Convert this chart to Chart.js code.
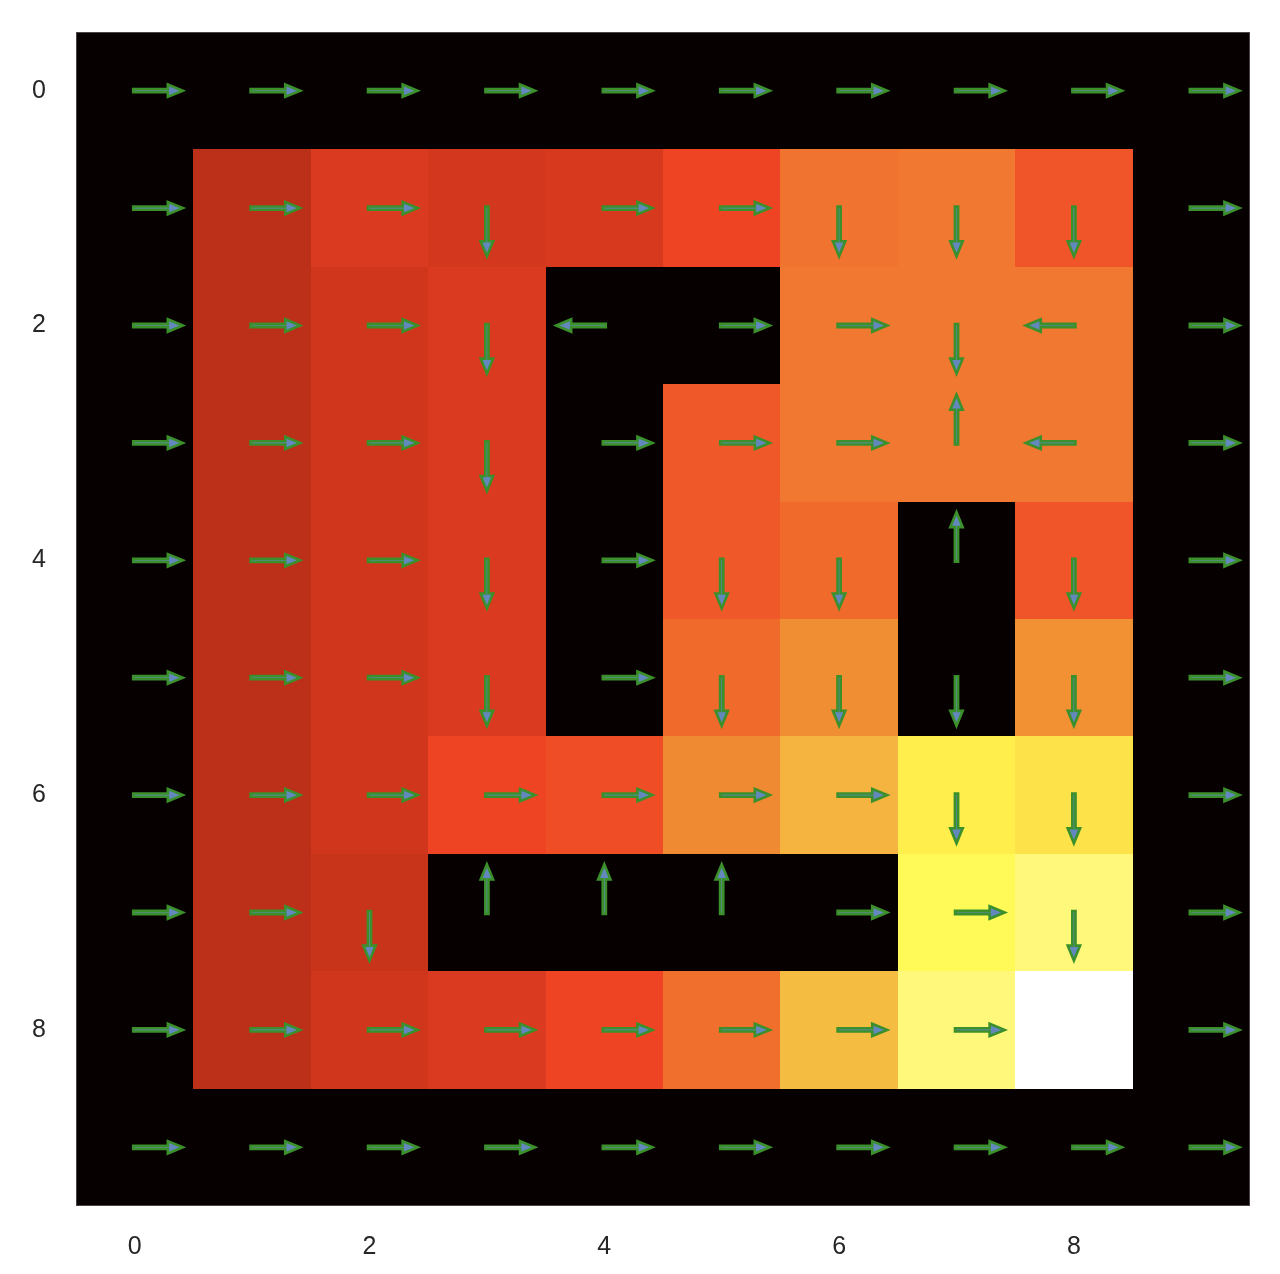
<!DOCTYPE html>
<html>
<head>
<meta charset="utf-8">
<style>
html,body{margin:0;padding:0;background:#ffffff;}
#wrap{width:1280px;height:1274px;position:relative;}
</style>
<script src="https://cdn.jsdelivr.net/npm/chart.js@4.4.1/dist/chart.umd.min.js"></script>
</head>
<body>
<div id="wrap"><canvas id="c" width="1280" height="1274"></canvas></div>
<script>
// ---- data ----
const colIndex = [0, 1, 2, 3, 4, 5, 6, 7, 8, 9];
const rowIndex = [0, 1, 2, 3, 4, 5, 6, 7, 8, 9];
const tickValues = [0, 2, 4, 6, 8];

// estimated state values (0 = wall / border, 1 = goal)
const cellValues = [
  [0, 0,    0,    0,    0,    0,    0,    0,    0,    0],
  [0, 0.30, 0.39, 0.37, 0.38, 0.42, 0.50, 0.51, 0.45, 0],
  [0, 0.30, 0.36, 0.39, 0,    0,    0.51, 0.51, 0.51, 0],
  [0, 0.30, 0.36, 0.39, 0,    0.455,0.51, 0.51, 0.51, 0],
  [0, 0.30, 0.36, 0.39, 0,    0.455,0.48, 0,    0.45, 0],
  [0, 0.30, 0.36, 0.39, 0,    0.48, 0.545,0,    0.55, 0],
  [0, 0.30, 0.36, 0.42, 0.435,0.54, 0.60, 0.76, 0.72, 0],
  [0, 0.30, 0.33, 0,    0,    0,    0,    0.80, 0.88, 0],
  [0, 0.30, 0.36, 0.39, 0.42, 0.49, 0.63, 0.88, 1.00, 0],
  [0, 0,    0,    0,    0,    0,    0,    0,    0,    0]
];

// greedy policy: R right, L left, U up, D down, . none
const policy = [
  "RRRRRRRRRR",
  "RRRDRRDDDR",
  "RRRDLRRDLR",
  "RRRDRRRULR",
  "RRRDRDDUDR",
  "RRRDRDDDDR",
  "RRRRRRRDDR",
  "RRDUUURRDR",
  "RRRRRRRR.R",
  "RRRRRRRRRR"
];

// ---- colour map (value -> colour) ----
const cmapStops = [
  [0.00, '#070000'], [0.30, '#BC2F18'], [0.33, '#C8341A'], [0.36, '#D0361C'],
  [0.39, '#DA3A1F'], [0.42, '#EE4423'], [0.45, '#EF5528'], [0.48, '#F06A2C'],
  [0.51, '#F07830'], [0.54, '#F08A32'], [0.60, '#F5B440'], [0.63, '#F5BC42'],
  [0.72, '#FDE24A'], [0.76, '#FFEE4C'], [0.80, '#FFFA58'], [0.88, '#FFF87A'],
  [1.00, '#FFFFFF']
];
function hexToRgb(h){return [parseInt(h.substr(1,2),16),parseInt(h.substr(3,2),16),parseInt(h.substr(5,2),16)];}
function cmap(v){
  if (v <= 0) return cmapStops[0][1];
  for (let i = 1; i < cmapStops.length; i++) {
    const [v1, c1] = cmapStops[i];
    const [v0, c0] = cmapStops[i-1];
    if (v <= v1) {
      if (v0 === 0 && v < v1) { return c1; }
      const t = (v - v0) / (v1 - v0);
      const a = hexToRgb(c0), b = hexToRgb(c1);
      const r = a.map((x, k) => Math.round(x + (b[k] - x) * t));
      return 'rgb(' + r.join(',') + ')';
    }
  }
  return cmapStops[cmapStops.length-1][1];
}

// points (cell centres) built from the arrays
const cellPoints = [];
rowIndex.forEach(r => colIndex.forEach(c => {
  cellPoints.push({x: c, y: r, v: cellValues[r][c], d: policy[r][c]});
}));

const heatPlugin = {
  id: 'heat',
  beforeDatasetsDraw(chart) {
    const {ctx, scales: {x, y}, chartArea} = chart;
    ctx.save();
    ctx.fillStyle = '#070000';
    ctx.fillRect(chartArea.left, chartArea.top, chartArea.right - chartArea.left, chartArea.bottom - chartArea.top);
    cellPoints.forEach(p => {
      const x0 = x.getPixelForValue(p.x - 0.5), x1 = x.getPixelForValue(p.x + 0.5);
      const y0 = y.getPixelForValue(p.y - 0.5), y1 = y.getPixelForValue(p.y + 0.5);
      ctx.fillStyle = cmap(p.v);
      ctx.fillRect(Math.round(x0), Math.round(y0), Math.round(x1) - Math.round(x0), Math.round(y1) - Math.round(y0));
    });
    ctx.strokeStyle = '#4a4446';
    ctx.lineWidth = 1;
    ctx.strokeRect(chartArea.left + 0.5, chartArea.top + 0.5, chartArea.right - chartArea.left - 1, chartArea.bottom - chartArea.top - 1);
    ctx.restore();
  },
  afterDatasetsDraw(chart) {
    const {ctx, scales: {x, y}} = chart;
    const dirs = {R: [1, 0], L: [-1, 0], U: [0, -1], D: [0, 1]};
    ctx.save();
    cellPoints.forEach(p => {
      const dv = dirs[p.d];
      if (!dv) return;
      const cx = x.getPixelForValue(p.x), cy = y.getPixelForValue(p.y);
      const tx = x.getPixelForValue(p.x + dv[0] * 0.41);
      const ty = y.getPixelForValue(p.y + dv[1] * 0.41);
      const len = Math.hypot(tx - cx, ty - cy);
      const ux = (tx - cx) / len, uy = (ty - cy) / len;
      const nx = -uy, ny = ux;
      const sw = 1.6, hw = 6.2, hl = 15;
      const tail = -1.5;
      const bx = cx + ux * tail, by = cy + uy * tail;
      const hx = tx - ux * hl, hy = ty - uy * hl;
      ctx.beginPath();
      ctx.moveTo(bx + nx * sw, by + ny * sw);
      ctx.lineTo(hx + nx * sw, hy + ny * sw);
      ctx.lineTo(hx + nx * hw, hy + ny * hw);
      ctx.lineTo(tx, ty);
      ctx.lineTo(hx - nx * hw, hy - ny * hw);
      ctx.lineTo(hx - nx * sw, hy - ny * sw);
      ctx.lineTo(bx - nx * sw, by - ny * sw);
      ctx.closePath();
      ctx.fillStyle = '#6388be';
      ctx.fill();
      ctx.lineJoin = 'miter';
      ctx.lineWidth = 2.6;
      ctx.strokeStyle = '#3b902b';
      ctx.stroke();
    });
    ctx.restore();
  }
};

new Chart(document.getElementById('c'), {
  type: 'scatter',
  data: {
    datasets: [{
      label: 'policy',
      data: cellPoints.map(p => ({x: p.x, y: p.y})),
      pointRadius: 0,
      pointHoverRadius: 0
    }]
  },
  options: {
    responsive: false,
    animation: false,
    devicePixelRatio: 1,
    layout: {padding: {left: 0, top: 32, right: 30, bottom: 0}},
    plugins: {legend: {display: false}, tooltip: {enabled: false}},
    events: [],
    scales: {
      x: {
        type: 'linear', min: -0.5, max: 9.5, position: 'bottom',
        grid: {display: false, drawTicks: false, tickLength: 0},
        border: {display: false},
        afterBuildTicks(s) { s.ticks = tickValues.map(v => ({value: v})); },
        afterFit(s) { s.height = 68; s.paddingLeft = 0; s.paddingRight = 0; },
        ticks: {
          autoSkip: false, maxRotation: 0, padding: 26,
          color: '#262626',
          font: {family: "'Liberation Sans', Arial, sans-serif", size: 25}
        }
      },
      y: {
        type: 'linear', min: -0.5, max: 9.5, reverse: true,
        grid: {display: false, drawTicks: false, tickLength: 0},
        border: {display: false},
        afterBuildTicks(s) { s.ticks = tickValues.map(v => ({value: v})); },
        afterFit(s) { s.width = 76; s.paddingTop = 0; s.paddingBottom = 0; },
        ticks: {
          autoSkip: false, padding: 30,
          color: '#262626',
          font: {family: "'Liberation Sans', Arial, sans-serif", size: 25}
        }
      }
    }
  },
  plugins: [heatPlugin]
});
</script>
</body>
</html>
